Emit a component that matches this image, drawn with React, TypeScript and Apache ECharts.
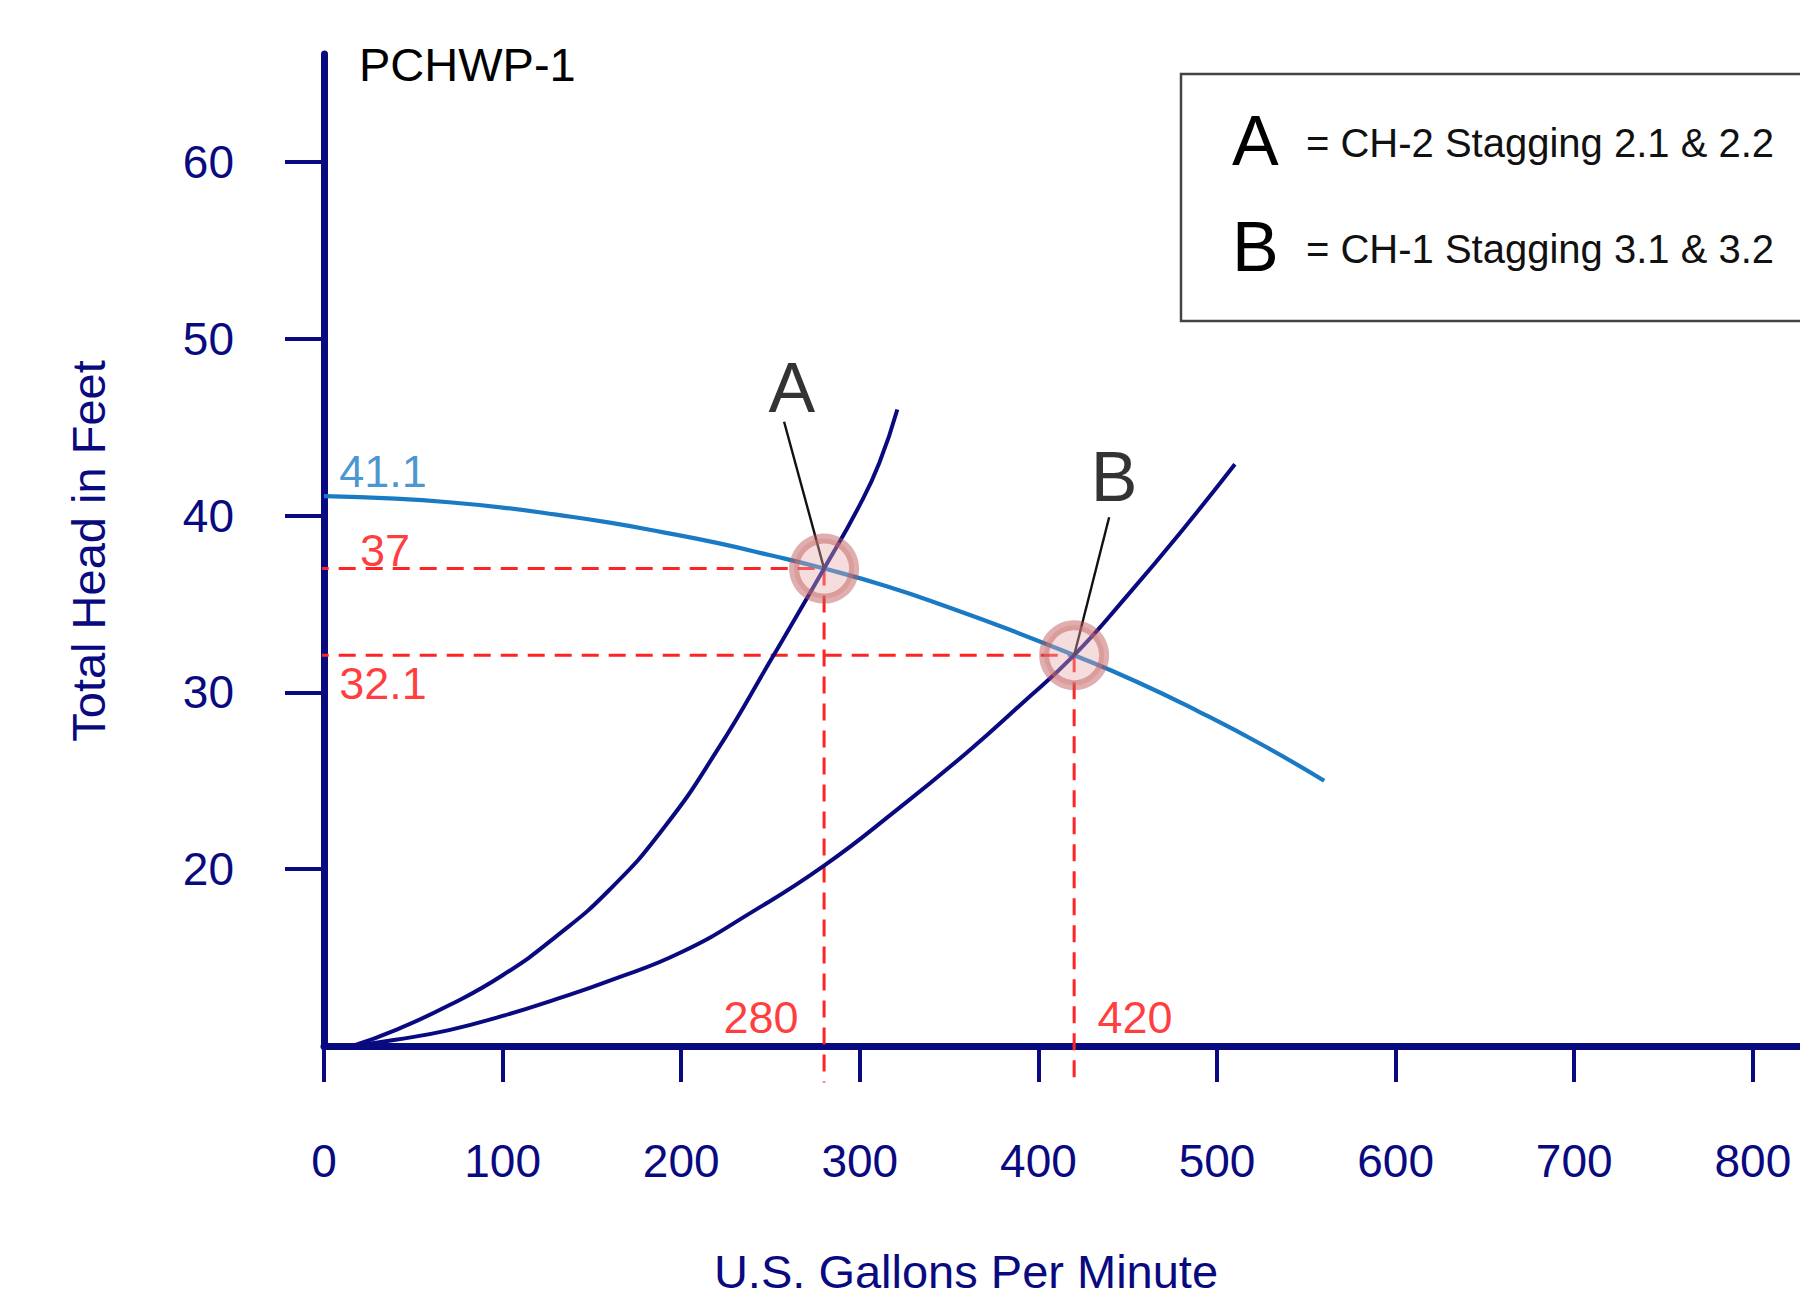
import React, { useEffect, useRef } from "react";
import * as echarts from "echarts";

// ---- data ----
const pumpCurve: [number, number][] = [
  [0, 41.1], [40, 40.95], [70, 40.75], [100, 40.45], [130, 40.05], [160, 39.6],
  [190, 39.05], [220, 38.45], [250, 37.75], [280, 37.0], [315, 36.0], [350, 34.8],
  [385, 33.5], [420, 32.1], [455, 30.6], [490, 28.9], [525, 27.05], [560, 25.0],
];
const systemCurveA: [number, number][] = [
  [16, 10.0], [40, 10.9], [70, 12.3], [100, 14.0], [130, 16.2], [160, 18.85],
  [190, 22.3], [220, 26.7], [250, 31.8], [280, 37.0], [300, 40.6], [311, 43.0], [321, 46.0],
];
const systemCurveB: [number, number][] = [
  [16, 10.0], [40, 10.35], [70, 10.9], [100, 11.7], [130, 12.65], [160, 13.7],
  [200, 15.3], [240, 17.6], [280, 20.2], [320, 23.3], [360, 26.6], [390, 29.3],
  [420, 32.1], [450, 35.5], [480, 39.1], [510, 42.9],
];
const operatingPoints: [number, number][] = [[280, 37], [420, 32.1]];
const leaderA: [number, number][] = [[257.6, 45.3], [280, 37]];
const leaderB: [number, number][] = [[439.6, 39.9], [420, 32.1]];
const guideLines: [number, number][][] = [
  [[-22, 37], [280, 37]],
  [[280, 37], [280, 7.93]],
  [[-22, 32.1], [420, 32.1]],
  [[420, 32.1], [420, 7.93]],
];
const redLabels = ["37", "32.1", "280", "420"];
const redLabelPos: [number, number][] = [[34.2, 38.05], [33, 30.5], [244.7, 11.6], [454.1, 11.6]];
const blueLabel = "41.1";
const blueLabelPos: [number, number] = [33, 42.5];
const pointLetters = ["A", "B"];
const pointLetterPos: [number, number][] = [[262, 47.2], [442.3, 42.2]];
const xTicks = [0, 100, 200, 300, 400, 500, 600, 700, 800];
const yTicks = [20, 30, 40, 50, 60];
const legendLetters = ["A", "B"];
const legendTexts = ["= CH-2 Stagging 2.1 & 2.2", "= CH-1 Stagging 3.1 & 3.2"];
const chartTitle = "PCHWP-1";
const xTitle = "U.S. Gallons Per Minute";
const yTitle = "Total Head in Feet";

const NAVY = "#0a0a80";
const FONT = "'Liberation Sans', Arial, Helvetica, sans-serif";
const RED = "#ff2424";
const RED_TEXT = "#ff0a0a";
const BLUE = "#1a7ac4";

export default function App() {
  const ref = useRef<HTMLDivElement>(null);
  useEffect(() => {
    if (!ref.current) return;
    const chart = echarts.init(ref.current, undefined, { renderer: "svg" });

    const textSeries = (labels: string[], pos: [number, number][], color: string, size: number, name: string) => ({
      type: "scatter",
      name,
      symbolSize: 0,
      silent: true,
      clip: false,
      z: 6,
      data: labels.map((t, i) => ({ value: pos[i], name: t })),
      label: {
        show: true,
        position: "inside",
        formatter: (p: any) => p.name,
        color,
        textBorderWidth: 0,
        fontSize: size,
        fontFamily: FONT,
      },
    });

    const curve = (name: string, data: [number, number][], color: string, width: number) => ({
      type: "line",
      name,
      data,
      smooth: 0.5,
      showSymbol: false,
      silent: true,
      z: 3,
      lineStyle: { color, width },
    });

    const option: any = {
      animation: false,
      grid: { left: 324, right: 0, top: 54, bottom: 251, containLabel: false },
      xAxis: {
        type: "value",
        min: 0,
        max: 826.4,
        interval: 100,
        axisLine: { show: true, lineStyle: { color: NAVY, width: 7 } },
        axisTick: { show: true, length: 36, lineStyle: { color: NAVY, width: 4 }, customValues: xTicks },
        axisLabel: { margin: 92, fontSize: 46, color: NAVY, fontFamily: FONT, customValues: xTicks },
        splitLine: { show: false },
      },
      yAxis: {
        type: "value",
        min: 10,
        max: 66.1,
        interval: 10,
        axisLine: { show: true, lineStyle: { color: NAVY, width: 7 } },
        axisTick: { show: true, length: 39, lineStyle: { color: NAVY, width: 4 }, customValues: yTicks },
        axisLabel: {
          margin: 90,
          fontSize: 46,
          color: NAVY,
          fontFamily: FONT,
          customValues: yTicks,
          formatter: (v: number) => (v === 10 ? "" : String(v)),
        },
        splitLine: { show: false },
      },
      series: [
        ...guideLines.map((seg, i) => ({
          type: "line",
          name: "guide" + i,
          data: seg,
          clip: false,
          showSymbol: false,
          silent: true,
          z: 2,
          lineStyle: { color: RED, width: 3, type: [17, 10] },
        })),
        curve("Pump curve", pumpCurve, BLUE, 4.2),
        curve("System A", systemCurveA, NAVY, 4),
        curve("System B", systemCurveB, NAVY, 4),
        {
          type: "line",
          name: "Leader A",
          data: leaderA,
          showSymbol: false,
          silent: true,
          z: 4,
          lineStyle: { color: "#111111", width: 2.4 },
        },
        {
          type: "line",
          name: "Leader B",
          data: leaderB,
          showSymbol: false,
          silent: true,
          z: 4,
          lineStyle: { color: "#111111", width: 2.4 },
        },
        {
          type: "scatter",
          name: "Operating points",
          data: operatingPoints,
          symbol: "circle",
          symbolSize: 60,
          silent: true,
          z: 5,
          itemStyle: {
            color: "rgba(230,170,170,0.5)",
            borderColor: "rgba(190,85,85,0.6)",
            borderWidth: 10,
          },
        },
        textSeries(redLabels, redLabelPos, RED_TEXT, 45, "Red labels"),
        textSeries([blueLabel], [blueLabelPos], BLUE, 45, "Shutoff head"),
        textSeries(pointLetters, pointLetterPos, "#000000", 70, "Point letters"),
      ],
      graphic: [
        {
          type: "text",
          x: 359,
          y: 64,
          style: { text: chartTitle, fontSize: 47, fontFamily: FONT, fill: "#000000", textAlign: "left", textVerticalAlign: "middle" },
        },
        {
          type: "text",
          x: 966,
          y: 1271,
          style: { text: xTitle, fontSize: 47, fontFamily: FONT, fill: NAVY, textAlign: "center", textVerticalAlign: "middle" },
        },
        {
          type: "text",
          x: 88,
          y: 551,
          rotation: Math.PI / 2,
          style: { text: yTitle, fontSize: 47, fontFamily: FONT, fill: NAVY, textAlign: "center", textVerticalAlign: "middle" },
        },
        {
          type: "rect",
          shape: { x: 1181, y: 74, width: 700, height: 247 },
          style: { fill: "#ffffff", stroke: "#444444", lineWidth: 2.5 },
          z: 1,
        },
        ...legendLetters.map((t, i) => ({
          type: "text",
          x: 1232,
          y: 141 + i * 106,
          z: 2,
          style: { text: t, fontSize: 70, fontFamily: FONT, fill: "#000000", textAlign: "left", textVerticalAlign: "middle" },
        })),
        ...legendTexts.map((t, i) => ({
          type: "text",
          x: 1306,
          y: 143 + i * 106,
          z: 2,
          style: { text: t, fontSize: 40, fontFamily: FONT, fill: "#111111", textAlign: "left", textVerticalAlign: "middle" },
        })),
      ],
    };
    chart.setOption(option);
    return () => chart.dispose();
  }, []);
  return (
    <div
      ref={ref}
      style={{ position: "absolute", left: 0, top: 0, width: 1800, height: 1297, background: "#ffffff" }}
    />
  );
}
